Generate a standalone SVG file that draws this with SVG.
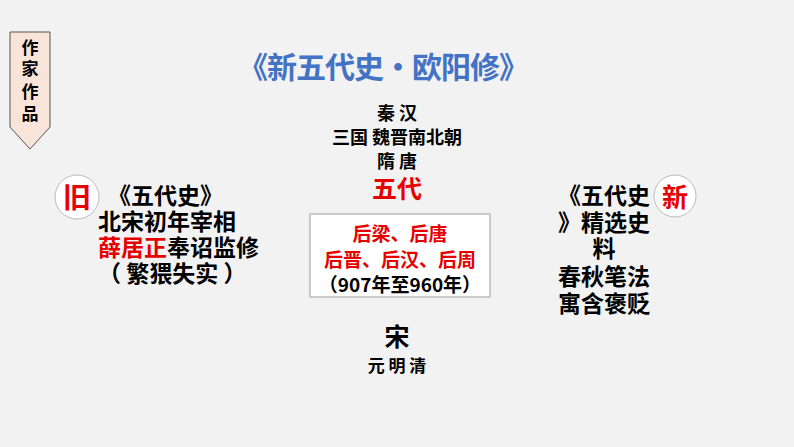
<svg xmlns="http://www.w3.org/2000/svg" width="794" height="447" viewBox="0 0 794 447">
<style>
text{font-family:"Noto Sans CJK SC","Liberation Sans",sans-serif;font-weight:bold;fill:#000}
.r{fill:#e60000}
.c{text-anchor:middle}
</style>
<rect width="794" height="447" fill="#f2f2f2"/>
<g id="tag">
<polygon points="10,32 50,32 50,127 30,149 10,127" fill="#f8e4d8" stroke="#555" stroke-width="1"/>
<text x="30" y="54" class="c" font-size="17">作</text>
<text x="30" y="75" class="c" font-size="17">家</text>
<text x="30" y="98" class="c" font-size="17">作</text>
<text x="30" y="120" class="c" font-size="17">品</text>
</g>
<g id="title"><text x="383" y="78" class="c" font-size="30" letter-spacing="-1" style="fill:#4472c4">《新五代史•欧阳修》</text></g>
<g id="center">
<text x="397" y="120" class="c" font-size="18">秦 汉</text>
<text x="397" y="144" class="c" font-size="18">三国 魏晋南北朝</text>
<text x="397" y="168" class="c" font-size="18">隋 唐</text>
<text x="397" y="198" class="c r" font-size="25">五代</text>
</g>
<g id="box">
<rect x="310" y="214" width="180" height="83" fill="#fff" stroke="#bbb" stroke-width="1.5"/>
<text x="400" y="241" class="c r" font-size="19">后梁、后唐</text>
<text x="400" y="267" class="c r" font-size="19">后晋、后汉、后周</text>
<text x="400" y="292" class="c" font-size="19">（907年至960年）</text>
</g>
<g id="song">
<text x="397" y="346" class="c" font-size="25">宋</text>
<text x="397" y="372" class="c" font-size="17">元 明 清</text>
</g>
<g id="old">
<circle cx="77" cy="197" r="22" fill="#fff" stroke="#bbb"/>
<text x="77" y="208" class="c r" font-size="28">旧</text>
<text x="108" y="204" font-size="23">《五代史》</text>
<text x="98" y="230" font-size="23">北宋初年宰相</text>
<text x="98" y="256" font-size="23"><tspan class="r">薛居正</tspan>奉诏监修</text>
<text x="98" y="282" font-size="23">（ 繁猥失实 ）</text>
</g>
<g id="new">
<circle cx="675" cy="196" r="21" fill="#fff" stroke="#bbb"/>
<text x="675" y="207" class="c r" font-size="26">新</text>
<text x="604" y="204" class="c" font-size="23">《五代史</text>
<text x="604" y="231" class="c" font-size="23">》精选史</text>
<text x="604" y="257" class="c" font-size="23">料</text>
<text x="604" y="285" class="c" font-size="23">春秋笔法</text>
<text x="604" y="312" class="c" font-size="23">寓含褒贬</text>
</g>
<g id="connectors"/>
</svg>
